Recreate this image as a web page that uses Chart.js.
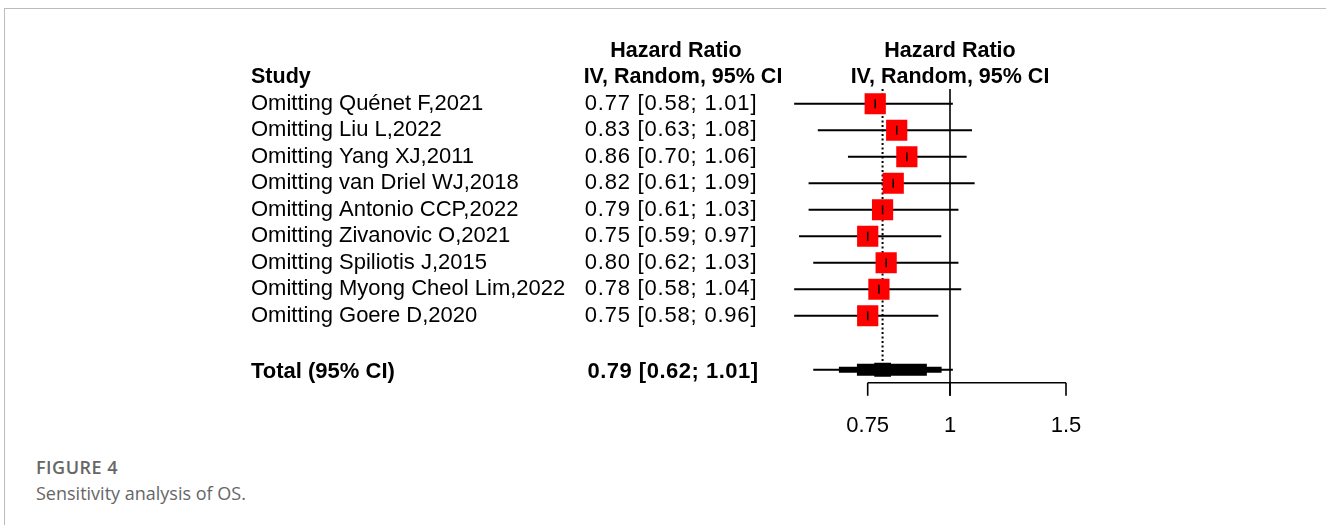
<!DOCTYPE html>
<html>
<head>
<meta charset="utf-8">
<script src="https://cdn.jsdelivr.net/npm/chart.js@4"></script>
<style>
  body { margin: 0; background: #fff; width: 1326px; height: 525px; overflow: hidden; position: relative; }
  #frame { position: absolute; left: 4px; top: 8px; right: 0; bottom: 0; border-top: 1px solid #bcbcbc; border-left: 1px solid #bcbcbc; }
  #chart { position: absolute; left: 0; top: 0; }
  .fig { position: absolute; left: 36px; top: 455px; color: #666; font: 600 18px "Open Sans", sans-serif; letter-spacing: 0.5px; }
  .cap { position: absolute; left: 36px; top: 481px; color: #666; font: 18px "Open Sans", sans-serif; }
</style>
</head>
<body>
<div id="frame"></div>
<canvas id="chart" width="1326" height="450"></canvas>
<div class="fig">FIGURE 4</div>
<div class="cap">Sensitivity analysis of OS.</div>
<script>
// forest plot data (sensitivity analysis, leave-one-out)
const studies = [
  "Omitting Quénet F,2021",
  "Omitting Liu L,2022",
  "Omitting Yang XJ,2011",
  "Omitting van Driel WJ,2018",
  "Omitting Antonio CCP,2022",
  "Omitting Zivanovic O,2021",
  "Omitting Spiliotis J,2015",
  "Omitting Myong Cheol Lim,2022",
  "Omitting Goere D,2020"
];
const hr = [0.77, 0.83, 0.86, 0.82, 0.79, 0.75, 0.80, 0.78, 0.75];
const lower = [0.58, 0.63, 0.70, 0.61, 0.61, 0.59, 0.62, 0.58, 0.58];
const upper = [1.01, 1.08, 1.06, 1.09, 1.03, 0.97, 1.03, 1.04, 0.96];

const totalLabel = "Total (95% CI)";
const totalHR = 0.79;
const totalLower = 0.62;
const totalUpper = 1.01;

const xTicks = [0.75, 1, 1.5];

const totalRow = studies.length + 1;
const FONT = "'Liberation Sans', Arial, sans-serif";

function fmt(v, lo, hi) {
  return v.toFixed(2) + " [" + lo.toFixed(2) + "; " + hi.toFixed(2) + "]";
}

// CI lines, one dataset per study
const ciSets = studies.map((s, i) => ({
  label: s,
  data: [{ x: lower[i], y: i }, { x: upper[i], y: i }],
  showLine: true,
  borderColor: "#000",
  borderWidth: 2,
  pointRadius: 0
}));

const forestPlugin = {
  id: "forest",
  beforeDatasetsDraw(chart) {
    const ctx = chart.ctx;
    const x = chart.scales.x, y = chart.scales.y;
    ctx.save();
    // line of no effect
    ctx.strokeStyle = "#000";
    ctx.lineWidth = 1.6;
    ctx.beginPath();
    ctx.moveTo(x.getPixelForValue(1), y.getPixelForValue(-0.56));
    ctx.lineTo(x.getPixelForValue(1), y.getPixelForValue(11.02));
    ctx.stroke();
    // pooled estimate, dotted
    ctx.setLineDash([2, 2.5]);
    ctx.lineWidth = 2;
    ctx.beginPath();
    ctx.moveTo(x.getPixelForValue(totalHR), y.getPixelForValue(-0.56));
    ctx.lineTo(x.getPixelForValue(totalHR), y.getPixelForValue(9.8));
    ctx.stroke();
    ctx.restore();
  },
  afterDraw(chart) {
    const ctx = chart.ctx;
    const x = chart.scales.x, y = chart.scales.y;
    ctx.save();
    ctx.fillStyle = "#000";
    ctx.textBaseline = "middle";

    // headers
    ctx.font = "bold 21.5px " + FONT;
    ctx.textAlign = "left";
    ctx.fillText("Study", 251, y.getPixelForValue(-1));
    ctx.textAlign = "center";
    ctx.fillText("Hazard Ratio", 676, y.getPixelForValue(-2));
    ctx.fillText("IV, Random, 95% CI", 683, y.getPixelForValue(-1));
    ctx.fillText("Hazard Ratio", x.getPixelForValue(1), y.getPixelForValue(-2));
    ctx.fillText("IV, Random, 95% CI", x.getPixelForValue(1), y.getPixelForValue(-1));

    // study rows
    studies.forEach((s, i) => {
      ctx.font = "22px " + FONT;
      ctx.letterSpacing = "0px";
      ctx.textAlign = "left";
      ctx.fillText(s, 251, y.getPixelForValue(i));
      ctx.textAlign = "center";
      ctx.letterSpacing = "0.8px";
      ctx.fillText(fmt(hr[i], lower[i], upper[i]), 671, y.getPixelForValue(i));
    });

    // total row
    const ty = y.getPixelForValue(totalRow) + 3;
    ctx.font = "bold 22px " + FONT;
    ctx.letterSpacing = "0px";
    ctx.textAlign = "left";
    ctx.fillText(totalLabel, 251, ty);
    ctx.textAlign = "center";
    ctx.letterSpacing = "0.5px";
    ctx.fillText(fmt(totalHR, totalLower, totalUpper), 673, ty);
    ctx.letterSpacing = "0px";

    // pooled estimate, stepped diamond
    const cy = y.getPixelForValue(totalRow) + 1;
    const cx = x.getPixelForValue(totalHR);
    const lx = x.getPixelForValue(totalLower);
    const rx = x.getPixelForValue(totalUpper);
    const steps = [[1, 1, 1], [0.63, 0.84, 3], [0.37, 0.63, 6], [0.12, 0.12, 7]];
    steps.forEach(([fl, fr, h]) => {
      const x0 = cx - (cx - lx) * fl;
      const x1 = cx + (rx - cx) * fr;
      ctx.fillRect(x0, cy - h, x1 - x0, 2 * h);
    });

    // axis
    const ay = y.getPixelForValue(10.53);
    const tb = y.getPixelForValue(11.02);
    const ax0 = x.getPixelForValue(xTicks[0]);
    const ax1 = x.getPixelForValue(xTicks[xTicks.length - 1]);
    ctx.strokeStyle = "#000";
    ctx.lineWidth = 1.6;
    ctx.beginPath();
    ctx.moveTo(ax0, ay);
    ctx.lineTo(ax1, ay);
    xTicks.forEach(t => {
      const px = x.getPixelForValue(t);
      ctx.moveTo(px, ay);
      ctx.lineTo(px, tb);
    });
    ctx.stroke();
    ctx.font = "22px " + FONT;
    ctx.textAlign = "center";
    xTicks.forEach(t => {
      ctx.fillText(String(t), x.getPixelForValue(t), y.getPixelForValue(12.14));
    });
    ctx.restore();
  }
};

new Chart(document.getElementById("chart"), {
  type: "scatter",
  data: {
    datasets: [
      {
        label: "estimate",
        data: hr.map((v, i) => ({ x: v, y: i })),
        pointStyle: "line",
        rotation: 90,
        pointRadius: 4.5,
        borderColor: "#000",
        borderWidth: 1.5
      },
      {
        label: "weight",
        data: hr.map((v, i) => ({ x: v, y: i })),
        pointStyle: "rect",
        pointRadius: 15,
        backgroundColor: "#ff0000",
        borderWidth: 0
      },
      ...ciSets
    ]
  },
  options: {
    responsive: false,
    animation: false,
    events: [],
    layout: { padding: { left: 751.7, right: 177.7, top: 37.5, bottom: 13.5 } },
    plugins: { legend: { display: false }, tooltip: { enabled: false } },
    scales: {
      x: { type: "logarithmic", min: 0.5, max: 2, bounds: "data", display: false },
      y: { type: "linear", min: -2.5, max: 12.5, reverse: true, display: false }
    }
  },
  plugins: [forestPlugin]
});
</script>
</body>
</html>
